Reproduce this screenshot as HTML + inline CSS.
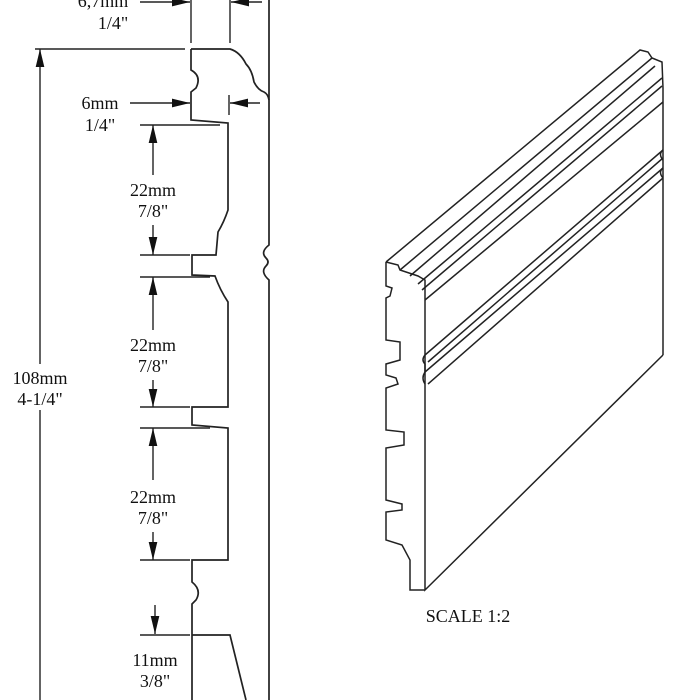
<!DOCTYPE html>
<html><head><style>html,body{margin:0;padding:0;background:#fff}svg{display:block}</style></head><body>
<svg width="700" height="700" viewBox="0 0 700 700" xmlns="http://www.w3.org/2000/svg">
<defs>
<marker id="b" viewBox="0 0 10 10" refX="10" refY="5" markerWidth="18" markerHeight="18" orient="auto-start-reverse" markerUnits="userSpaceOnUse"><path d="M0,2.6 L10,5 L0,7.4z" fill="#111"/></marker>
</defs>
<g fill="none" stroke="#222" stroke-width="1.7">
<path d="M191,49 L230,49 Q240,52 246,64 Q252,70 254,82 Q258,90 264,92 Q268,94 269,100"/>
<path d="M269,0 L269,245 Q260,252 266,258 Q270,262 266,266 Q260,272 269,280 L269,700"/>
<path d="M191,49 L191,70 Q202,76 196,88 L191,92 L191,120 L228,123 L228,210 Q224,222 218,232 L216,255 L192,255 L192,275 L215,276 Q220,290 228,302 L228,407 L192,407 L192,425 L228,428 L228,560 L192,560 L192,582 Q202,590 196,600 L192,604 L192,700"/>
<path d="M192,635 L230,635 L246,700"/>
</g>
<g fill="none" stroke="#222" stroke-width="1.4">
<line x1="191" y1="0" x2="191" y2="43"/>
<line x1="230" y1="0" x2="230" y2="43"/>
<line x1="35" y1="49" x2="185" y2="49"/>
<line x1="229" y1="95" x2="229" y2="115"/>
<line x1="140" y1="125" x2="220" y2="125"/>
<line x1="140" y1="255" x2="190" y2="255"/>
<line x1="140" y1="277" x2="210" y2="277"/>
<line x1="140" y1="407" x2="190" y2="407"/>
<line x1="140" y1="428" x2="210" y2="428"/>
<line x1="140" y1="560" x2="190" y2="560"/>
<line x1="140" y1="635" x2="190" y2="635"/>
<line x1="40" y1="700" x2="40" y2="49" marker-end="url(#b)"/>
<line x1="140" y1="2" x2="190" y2="2" marker-end="url(#b)"/>
<line x1="262" y1="2" x2="231" y2="2" marker-end="url(#b)"/>
<line x1="130" y1="103" x2="190" y2="103" marker-end="url(#b)"/>
<line x1="260" y1="103" x2="230" y2="103" marker-end="url(#b)"/>
<line x1="153" y1="175" x2="153" y2="125" marker-end="url(#b)"/>
<line x1="153" y1="225" x2="153" y2="255" marker-end="url(#b)"/>
<line x1="153" y1="330" x2="153" y2="277" marker-end="url(#b)"/>
<line x1="153" y1="380" x2="153" y2="407" marker-end="url(#b)"/>
<line x1="153" y1="480" x2="153" y2="428" marker-end="url(#b)"/>
<line x1="153" y1="532" x2="153" y2="560" marker-end="url(#b)"/>
<line x1="155" y1="605" x2="155" y2="634" marker-end="url(#b)"/>
</g>
<rect x="8" y="364" width="64" height="46" fill="#fff"/>
<g font-family="Liberation Serif, serif" font-size="18" fill="#111" text-anchor="middle">
<text x="103" y="7">6,7mm</text><text x="113" y="29">1/4"</text>
<text x="100" y="109">6mm</text><text x="100" y="131">1/4"</text>
<text x="153" y="196">22mm</text><text x="153" y="217">7/8"</text>
<text x="153" y="351">22mm</text><text x="153" y="372">7/8"</text>
<text x="153" y="503">22mm</text><text x="153" y="524">7/8"</text>
<text x="155" y="666">11mm</text><text x="155" y="687">3/8"</text>
<text x="40" y="384">108mm</text><text x="40" y="405">4-1/4"</text>
<text x="468" y="622">SCALE  1:2</text>
</g>
<g fill="none" stroke="#222" stroke-width="1.5">
<path d="M386,262 L386,286 L392,288 L390,296 L386,298 L386,340 L400,342 L400,360 L386,364 L386,375 L396,378 L398,384 L386,388 L386,430 L404,432 L404,445 L386,448 L386,500 L402,504 L402,510 L386,512 L386,540 L402,545 L410,560 L410,590 L425,590"/>
<path d="M386,262 L640,50 L648,52 L652,58 L662,62 L663,88 L663,355"/>
<path d="M386,262 L398,265 L400,270 L418,276 L425,280 L425,590 L663,355"/>
<line x1="400" y1="270" x2="652" y2="58"/>
<line x1="410" y1="276" x2="655" y2="66"/>
<line x1="418" y1="284" x2="662" y2="78"/>
<line x1="422" y1="290" x2="662" y2="86"/>
<line x1="425" y1="300" x2="663" y2="102"/>
<line x1="425" y1="355" x2="663" y2="150"/>
<line x1="428" y1="362" x2="663" y2="158"/>
<line x1="425" y1="372" x2="663" y2="168"/>
<line x1="428" y1="384" x2="663" y2="178"/>
<path d="M425,355 Q421,360 425,364 L425,372 Q421,378 425,384"/>
<path d="M663,150 Q658,154 663,160 M663,168 Q658,172 663,178"/>
</g>
</svg>
</body></html>
